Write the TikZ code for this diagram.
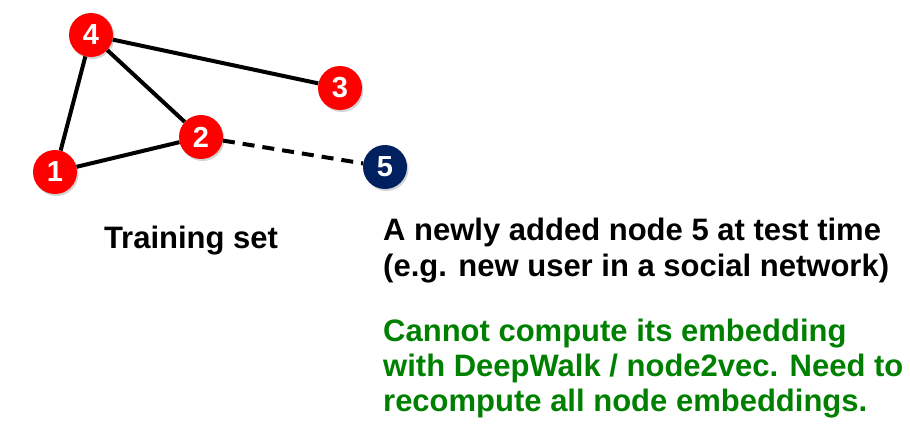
\documentclass[tikz,border=0pt]{standalone}
\usepackage{fontspec}
\setmainfont{Liberation Sans}
\usetikzlibrary{shadows}
\definecolor{nodered}{RGB}{255,0,0}
\definecolor{navy}{RGB}{0,32,96}
\definecolor{textgreen}{RGB}{0,128,0}
\begin{document}
\begin{tikzpicture}[x=1pt,y=-1pt,
  vert/.style={circle,minimum size=44pt,inner sep=0pt,fill=nodered,text=white,
    font=\fontsize{29}{29}\selectfont\bfseries,
    drop shadow={shadow xshift=1.5pt,shadow yshift=-2pt,opacity=0.35}},
  newvert/.style={vert,fill=navy},
  edge/.style={line width=4pt,black},
  label/.style={font=\fontsize{31}{36}\selectfont\bfseries,align=left,inner sep=0pt}]
\useasboundingbox (0,0) rectangle (910,425);
\node[vert] (n4) at (91,35) {4};
\node[vert] (n3) at (340,88) {3};
\node[vert] (n2) at (201,137) {2};
\node[vert] (n1) at (55,172) {1};
\node[newvert] (n5) at (385,167) {5};
\draw[edge] (n4) -- (n3);
\draw[edge] (n4) -- (n2);
\draw[edge] (n4) -- (n1);
\draw[edge] (n1) -- (n2);
\draw[edge,dash pattern=on 12pt off 8pt] (n2) -- (n5);
\node[label,anchor=base] (train) at (191,248) {Training set};
\node[label,anchor=base west] (info) at (383,276) {A newly added node 5 at test time\\(e.g. new user in a social network)};
\node[label,anchor=base west,text=textgreen,font=\fontsize{31}{35}\selectfont\bfseries] (note) at (383,411) {Cannot compute its embedding\\with DeepWalk / node2vec. Need to\\recompute all node embeddings.};
\end{tikzpicture}
\end{document}
